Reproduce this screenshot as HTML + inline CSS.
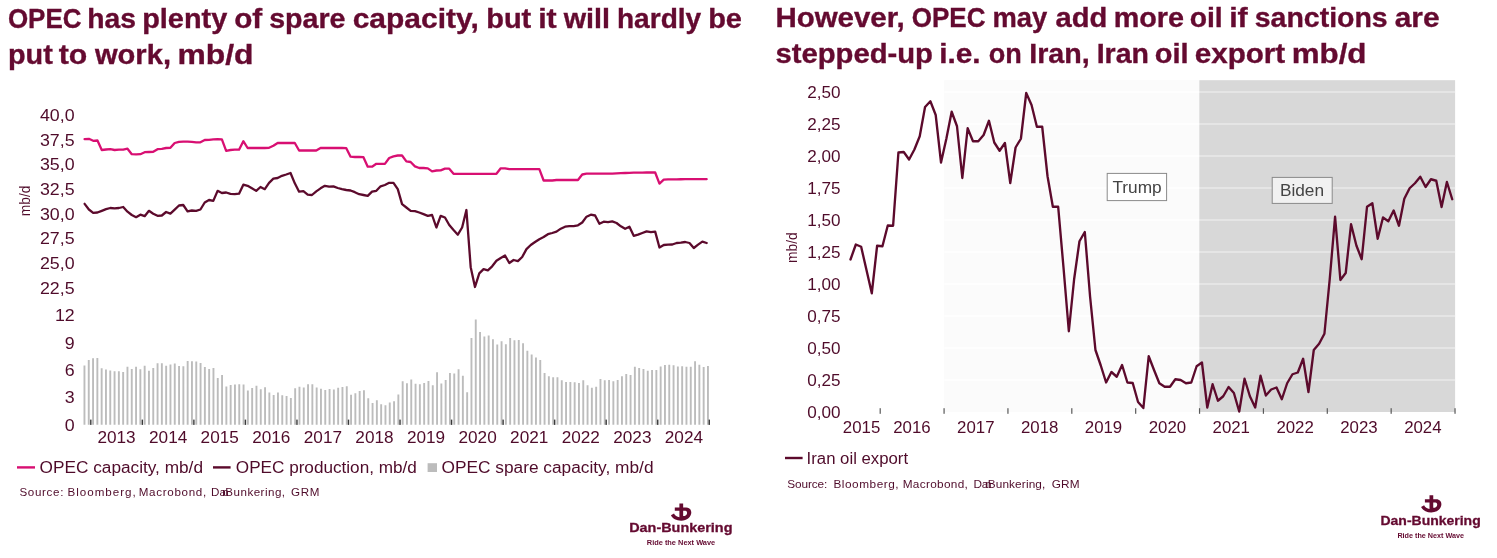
<!DOCTYPE html>
<html><head><meta charset="utf-8"><title>OPEC spare capacity / Iran oil export</title>
<style>
html,body{margin:0;padding:0;background:#ffffff;}
body{width:1497px;height:558px;overflow:hidden;}
svg{display:block;will-change:transform;}
svg text{font-family:"Liberation Sans",sans-serif;}
</style></head><body>
<svg width="1497" height="558" viewBox="0 0 1497 558">
<rect x="0" y="0" width="1497" height="558" fill="#ffffff"/>
<text x="7.95" y="27.60" font-size="27" fill="#640a30" font-weight="bold" textLength="73.55" lengthAdjust="spacingAndGlyphs" stroke="#640a30" stroke-width="0.35">OPEC</text>
<text x="87.20" y="27.60" font-size="27" fill="#640a30" font-weight="bold" textLength="48.80" lengthAdjust="spacingAndGlyphs" stroke="#640a30" stroke-width="0.35">has</text>
<text x="142.20" y="27.60" font-size="27" fill="#640a30" font-weight="bold" textLength="85.05" lengthAdjust="spacingAndGlyphs" stroke="#640a30" stroke-width="0.35">plenty</text>
<text x="234.20" y="27.60" font-size="27" fill="#640a30" font-weight="bold" textLength="28.05" lengthAdjust="spacingAndGlyphs" stroke="#640a30" stroke-width="0.35">of</text>
<text x="269.20" y="27.60" font-size="27" fill="#640a30" font-weight="bold" textLength="76.30" lengthAdjust="spacingAndGlyphs" stroke="#640a30" stroke-width="0.35">spare</text>
<text x="352.70" y="27.60" font-size="27" fill="#640a30" font-weight="bold" textLength="126.05" lengthAdjust="spacingAndGlyphs" stroke="#640a30" stroke-width="0.35">capacity,</text>
<text x="486.20" y="27.60" font-size="27" fill="#640a30" font-weight="bold" textLength="45.05" lengthAdjust="spacingAndGlyphs" stroke="#640a30" stroke-width="0.35">but</text>
<text x="538.20" y="27.60" font-size="27" fill="#640a30" font-weight="bold" textLength="18.55" lengthAdjust="spacingAndGlyphs" stroke="#640a30" stroke-width="0.35">it</text>
<text x="563.70" y="27.60" font-size="27" fill="#640a30" font-weight="bold" textLength="46.30" lengthAdjust="spacingAndGlyphs" stroke="#640a30" stroke-width="0.35">will</text>
<text x="616.95" y="27.60" font-size="27" fill="#640a30" font-weight="bold" textLength="84.30" lengthAdjust="spacingAndGlyphs" stroke="#640a30" stroke-width="0.35">hardly</text>
<text x="708.20" y="27.60" font-size="27" fill="#640a30" font-weight="bold" textLength="33.80" lengthAdjust="spacingAndGlyphs" stroke="#640a30" stroke-width="0.35">be</text>
<text x="7.95" y="64.00" font-size="27" fill="#640a30" font-weight="bold" textLength="44.80" lengthAdjust="spacingAndGlyphs" stroke="#640a30" stroke-width="0.35">put</text>
<text x="58.70" y="64.00" font-size="27" fill="#640a30" font-weight="bold" textLength="28.55" lengthAdjust="spacingAndGlyphs" stroke="#640a30" stroke-width="0.35">to</text>
<text x="94.95" y="64.00" font-size="27" fill="#640a30" font-weight="bold" textLength="76.05" lengthAdjust="spacingAndGlyphs" stroke="#640a30" stroke-width="0.35">work,</text>
<text x="177.45" y="64.00" font-size="27" fill="#640a30" font-weight="bold" textLength="76.05" lengthAdjust="spacingAndGlyphs" stroke="#640a30" stroke-width="0.35">mb/d</text>
<text x="775.45" y="27.20" font-size="27" fill="#640a30" font-weight="bold" textLength="129.30" lengthAdjust="spacingAndGlyphs" stroke="#640a30" stroke-width="0.35">However,</text>
<text x="911.70" y="27.20" font-size="27" fill="#640a30" font-weight="bold" textLength="73.80" lengthAdjust="spacingAndGlyphs" stroke="#640a30" stroke-width="0.35">OPEC</text>
<text x="992.45" y="27.20" font-size="27" fill="#640a30" font-weight="bold" textLength="54.80" lengthAdjust="spacingAndGlyphs" stroke="#640a30" stroke-width="0.35">may</text>
<text x="1055.45" y="27.20" font-size="27" fill="#640a30" font-weight="bold" textLength="51.80" lengthAdjust="spacingAndGlyphs" stroke="#640a30" stroke-width="0.35">add</text>
<text x="1113.70" y="27.20" font-size="27" fill="#640a30" font-weight="bold" textLength="70.30" lengthAdjust="spacingAndGlyphs" stroke="#640a30" stroke-width="0.35">more</text>
<text x="1189.70" y="27.20" font-size="27" fill="#640a30" font-weight="bold" textLength="33.05" lengthAdjust="spacingAndGlyphs" stroke="#640a30" stroke-width="0.35">oil</text>
<text x="1229.20" y="27.20" font-size="27" fill="#640a30" font-weight="bold" textLength="18.55" lengthAdjust="spacingAndGlyphs" stroke="#640a30" stroke-width="0.35">if</text>
<text x="1254.70" y="27.20" font-size="27" fill="#640a30" font-weight="bold" textLength="133.05" lengthAdjust="spacingAndGlyphs" stroke="#640a30" stroke-width="0.35">sanctions</text>
<text x="1394.70" y="27.20" font-size="27" fill="#640a30" font-weight="bold" textLength="44.80" lengthAdjust="spacingAndGlyphs" stroke="#640a30" stroke-width="0.35">are</text>
<text x="775.45" y="63.40" font-size="27" fill="#640a30" font-weight="bold" textLength="157.55" lengthAdjust="spacingAndGlyphs" stroke="#640a30" stroke-width="0.35">stepped-up</text>
<text x="939.20" y="63.40" font-size="27" fill="#640a30" font-weight="bold" textLength="41.30" lengthAdjust="spacingAndGlyphs" stroke="#640a30" stroke-width="0.35">i.e.</text>
<text x="988.70" y="63.40" font-size="27" fill="#640a30" font-weight="bold" textLength="33.05" lengthAdjust="spacingAndGlyphs" stroke="#640a30" stroke-width="0.35">on</text>
<text x="1029.20" y="63.40" font-size="27" fill="#640a30" font-weight="bold" textLength="60.55" lengthAdjust="spacingAndGlyphs" stroke="#640a30" stroke-width="0.35">Iran,</text>
<text x="1096.70" y="63.40" font-size="27" fill="#640a30" font-weight="bold" textLength="52.30" lengthAdjust="spacingAndGlyphs" stroke="#640a30" stroke-width="0.35">Iran</text>
<text x="1154.70" y="63.40" font-size="27" fill="#640a30" font-weight="bold" textLength="33.80" lengthAdjust="spacingAndGlyphs" stroke="#640a30" stroke-width="0.35">oil</text>
<text x="1194.70" y="63.40" font-size="27" fill="#640a30" font-weight="bold" textLength="90.55" lengthAdjust="spacingAndGlyphs" stroke="#640a30" stroke-width="0.35">export</text>
<text x="1291.70" y="63.40" font-size="27" fill="#640a30" font-weight="bold" textLength="74.80" lengthAdjust="spacingAndGlyphs" stroke="#640a30" stroke-width="0.35">mb/d</text>
<path d="M83.51 424.8V365.50h1.9V424.8zM87.81 424.8V360.00h1.9V424.8zM92.11 424.8V358.25h1.9V424.8zM96.41 424.8V358.00h1.9V424.8zM100.71 424.8V368.25h1.9V424.8zM105.01 424.8V369.50h1.9V424.8zM109.31 424.8V370.50h1.9V424.8zM113.61 424.8V371.25h1.9V424.8zM117.91 424.8V371.25h1.9V424.8zM122.21 424.8V372.00h1.9V424.8zM126.51 424.8V366.75h1.9V424.8zM130.81 424.8V369.00h1.9V424.8zM135.11 424.8V366.75h1.9V424.8zM139.41 424.8V369.25h1.9V424.8zM143.71 424.8V365.75h1.9V424.8zM148.01 424.8V370.75h1.9V424.8zM152.31 424.8V368.00h1.9V424.8zM156.61 424.8V363.25h1.9V424.8zM160.91 424.8V363.25h1.9V424.8zM165.21 424.8V365.75h1.9V424.8zM169.51 424.8V364.50h1.9V424.8zM173.81 424.8V363.50h1.9V424.8zM178.11 424.8V366.00h1.9V424.8zM182.41 424.8V366.25h1.9V424.8zM186.71 424.8V361.00h1.9V424.8zM191.01 424.8V361.25h1.9V424.8zM195.31 424.8V361.50h1.9V424.8zM199.61 424.8V363.00h1.9V424.8zM203.91 424.8V367.00h1.9V424.8zM208.21 424.8V369.00h1.9V424.8zM212.51 424.8V368.00h1.9V424.8zM216.81 424.8V378.00h1.9V424.8zM221.11 424.8V375.00h1.9V424.8zM225.41 424.8V386.50h1.9V424.8zM229.71 424.8V385.00h1.9V424.8zM234.01 424.8V384.50h1.9V424.8zM238.31 424.8V384.25h1.9V424.8zM242.61 424.8V384.50h1.9V424.8zM246.91 424.8V390.50h1.9V424.8zM251.21 424.8V388.00h1.9V424.8zM255.51 424.8V385.75h1.9V424.8zM259.81 424.8V389.25h1.9V424.8zM264.11 424.8V387.25h1.9V424.8zM268.41 424.8V392.50h1.9V424.8zM272.71 424.8V395.00h1.9V424.8zM277.01 424.8V392.50h1.9V424.8zM281.31 424.8V395.25h1.9V424.8zM285.61 424.8V396.00h1.9V424.8zM289.91 424.8V398.00h1.9V424.8zM294.21 424.8V388.25h1.9V424.8zM298.51 424.8V386.75h1.9V424.8zM302.81 424.8V387.50h1.9V424.8zM307.11 424.8V384.25h1.9V424.8zM311.41 424.8V384.25h1.9V424.8zM315.71 424.8V387.50h1.9V424.8zM320.01 424.8V388.75h1.9V424.8zM324.31 424.8V390.00h1.9V424.8zM328.61 424.8V389.00h1.9V424.8zM332.91 424.8V389.50h1.9V424.8zM337.21 424.8V387.75h1.9V424.8zM341.51 424.8V387.00h1.9V424.8zM345.81 424.8V386.25h1.9V424.8zM350.11 424.8V394.75h1.9V424.8zM354.41 424.8V393.25h1.9V424.8zM358.71 424.8V391.00h1.9V424.8zM363.01 424.8V390.25h1.9V424.8zM367.31 424.8V398.25h1.9V424.8zM371.61 424.8V403.00h1.9V424.8zM375.91 424.8V400.25h1.9V424.8zM380.21 424.8V404.25h1.9V424.8zM384.51 424.8V405.25h1.9V424.8zM388.81 424.8V402.50h1.9V424.8zM393.11 424.8V401.25h1.9V424.8zM397.41 424.8V394.50h1.9V424.8zM401.71 424.8V381.25h1.9V424.8zM406.01 424.8V383.25h1.9V424.8zM410.31 424.8V379.50h1.9V424.8zM414.61 424.8V383.75h1.9V424.8zM418.91 424.8V384.25h1.9V424.8zM423.21 424.8V383.00h1.9V424.8zM427.51 424.8V381.00h1.9V424.8zM431.81 424.8V385.25h1.9V424.8zM436.11 424.8V372.25h1.9V424.8zM440.41 424.8V383.50h1.9V424.8zM444.71 424.8V380.00h1.9V424.8zM449.01 424.8V373.00h1.9V424.8zM453.31 424.8V373.50h1.9V424.8zM457.61 424.8V369.25h1.9V424.8zM461.91 424.8V375.75h1.9V424.8zM466.21 424.8V392.25h1.9V424.8zM470.51 424.8V338.00h1.9V424.8zM474.81 424.8V319.50h1.9V424.8zM479.11 424.8V332.00h1.9V424.8zM483.41 424.8V336.50h1.9V424.8zM487.71 424.8V335.50h1.9V424.8zM492.01 424.8V339.25h1.9V424.8zM496.31 424.8V344.50h1.9V424.8zM500.61 424.8V341.25h1.9V424.8zM504.91 424.8V344.25h1.9V424.8zM509.21 424.8V338.00h1.9V424.8zM513.51 424.8V340.25h1.9V424.8zM517.81 424.8V340.00h1.9V424.8zM522.11 424.8V343.25h1.9V424.8zM526.41 424.8V350.75h1.9V424.8zM530.71 424.8V354.50h1.9V424.8zM535.01 424.8V357.50h1.9V424.8zM539.31 424.8V360.00h1.9V424.8zM543.61 424.8V373.00h1.9V424.8zM547.91 424.8V376.25h1.9V424.8zM552.21 424.8V377.25h1.9V424.8zM556.51 424.8V377.25h1.9V424.8zM560.81 424.8V380.25h1.9V424.8zM565.11 424.8V382.00h1.9V424.8zM569.41 424.8V382.00h1.9V424.8zM573.71 424.8V382.25h1.9V424.8zM578.01 424.8V383.00h1.9V424.8zM582.31 424.8V380.25h1.9V424.8zM586.61 424.8V385.25h1.9V424.8zM590.91 424.8V387.75h1.9V424.8zM595.21 424.8V386.75h1.9V424.8zM599.51 424.8V379.00h1.9V424.8zM603.81 424.8V380.25h1.9V424.8zM608.11 424.8V380.00h1.9V424.8zM612.41 424.8V381.25h1.9V424.8zM616.71 424.8V380.00h1.9V424.8zM621.01 424.8V376.25h1.9V424.8zM625.31 424.8V374.00h1.9V424.8zM629.61 424.8V375.00h1.9V424.8zM633.91 424.8V366.75h1.9V424.8zM638.21 424.8V368.00h1.9V424.8zM642.51 424.8V369.00h1.9V424.8zM646.81 424.8V370.75h1.9V424.8zM651.11 424.8V370.00h1.9V424.8zM655.41 424.8V370.00h1.9V424.8zM659.71 424.8V366.50h1.9V424.8zM664.01 424.8V365.00h1.9V424.8zM668.31 424.8V364.75h1.9V424.8zM672.61 424.8V365.25h1.9V424.8zM676.91 424.8V366.50h1.9V424.8zM681.21 424.8V366.25h1.9V424.8zM685.51 424.8V366.75h1.9V424.8zM689.81 424.8V366.75h1.9V424.8zM694.11 424.8V361.25h1.9V424.8zM698.41 424.8V364.75h1.9V424.8zM702.71 424.8V367.00h1.9V424.8zM707.01 424.8V366.00h1.9V424.8z" fill="#bcbcbc"/>
<rect x="90.10" y="419.6" width="1.4" height="5.3" fill="#3a3a3a"/>
<rect x="141.64" y="419.6" width="1.4" height="5.3" fill="#3a3a3a"/>
<rect x="193.18" y="419.6" width="1.4" height="5.3" fill="#3a3a3a"/>
<rect x="244.72" y="419.6" width="1.4" height="5.3" fill="#3a3a3a"/>
<rect x="296.26" y="419.6" width="1.4" height="5.3" fill="#3a3a3a"/>
<rect x="347.80" y="419.6" width="1.4" height="5.3" fill="#3a3a3a"/>
<rect x="399.34" y="419.6" width="1.4" height="5.3" fill="#3a3a3a"/>
<rect x="450.88" y="419.6" width="1.4" height="5.3" fill="#3a3a3a"/>
<rect x="502.42" y="419.6" width="1.4" height="5.3" fill="#3a3a3a"/>
<rect x="553.96" y="419.6" width="1.4" height="5.3" fill="#3a3a3a"/>
<rect x="605.50" y="419.6" width="1.4" height="5.3" fill="#3a3a3a"/>
<rect x="657.04" y="419.6" width="1.4" height="5.3" fill="#3a3a3a"/>
<rect x="708.58" y="419.6" width="1.4" height="5.3" fill="#3a3a3a"/>
<polyline points="84.60,139.17 88.89,138.83 93.18,140.83 97.47,140.50 101.76,150.00 106.05,149.50 110.34,149.17 114.63,150.00 118.92,149.67 123.21,149.67 127.50,148.67 131.79,154.17 136.08,154.33 140.37,154.17 144.66,152.17 148.95,152.00 153.24,151.83 157.53,149.17 161.82,148.83 166.11,148.00 170.40,147.83 174.69,143.00 178.98,141.83 183.27,141.67 187.56,141.67 191.85,141.83 196.14,142.33 200.43,142.33 204.72,140.00 209.01,139.83 213.30,139.33 217.59,139.17 221.88,139.33 226.17,150.83 230.46,150.00 234.75,149.67 239.04,149.67 243.33,141.17 247.62,148.00 251.91,148.00 256.20,148.00 260.49,148.00 264.78,148.00 269.07,147.83 273.36,145.83 277.65,143.00 281.94,142.83 286.23,143.00 290.52,143.00 294.81,143.00 299.10,150.50 303.39,150.50 307.68,150.50 311.97,150.50 316.26,150.50 320.55,148.00 324.84,148.00 329.13,148.00 333.42,148.00 337.71,148.00 342.00,148.00 346.29,148.17 350.58,156.67 354.87,157.00 359.16,157.00 363.45,157.17 367.74,166.67 372.03,166.67 376.32,163.83 380.61,163.83 384.90,163.83 389.19,158.00 393.48,156.33 397.77,155.50 402.06,155.50 406.35,161.33 410.64,162.00 414.93,166.33 419.22,168.00 423.51,168.00 427.80,168.33 432.09,171.33 436.38,170.50 440.67,170.33 444.96,168.67 449.25,168.67 453.54,173.83 457.83,173.83 462.12,173.83 466.41,173.83 470.70,173.83 474.99,173.83 479.28,173.83 483.57,173.83 487.86,173.83 492.15,173.83 496.44,173.83 500.73,168.33 505.02,168.33 509.31,169.17 513.60,169.17 517.89,169.17 522.18,169.17 526.47,169.17 530.76,169.17 535.05,169.17 539.34,169.17 543.63,180.50 547.92,180.50 552.21,180.50 556.50,180.00 560.79,180.00 565.08,180.00 569.37,180.00 573.66,180.00 577.95,180.00 582.24,174.50 586.53,173.67 590.82,173.67 595.11,173.67 599.40,173.67 603.69,173.67 607.98,173.67 612.27,173.67 616.56,173.42 620.85,173.17 625.14,173.00 629.43,172.83 633.72,172.67 638.01,172.67 642.30,172.58 646.59,172.50 650.88,172.50 655.17,172.50 659.46,183.67 663.75,179.67 668.04,179.33 672.33,179.33 676.62,179.33 680.91,179.25 685.20,179.17 689.49,179.17 693.78,179.17 698.07,179.17 702.36,179.17 706.65,179.17" fill="none" stroke="#d80f72" stroke-width="2.3" stroke-linejoin="round" stroke-linecap="round"/>
<polyline points="84.60,203.83 88.89,209.50 93.18,212.83 97.47,212.50 101.76,210.83 106.05,209.17 110.34,208.00 114.63,208.33 118.92,208.00 123.21,207.00 127.50,211.67 131.79,215.00 136.08,217.17 140.37,214.67 144.66,216.17 148.95,210.83 153.24,213.67 157.53,215.83 161.82,215.50 166.11,212.00 170.40,213.67 174.69,209.67 178.98,205.50 183.27,205.00 187.56,211.33 191.85,210.50 196.14,210.83 200.43,209.50 204.72,202.50 209.01,200.00 213.30,200.83 217.59,190.83 221.88,193.00 226.17,192.50 230.46,193.83 234.75,194.17 239.04,193.67 243.33,184.67 247.62,185.83 251.91,188.33 256.20,190.83 260.49,187.00 264.78,189.17 269.07,182.83 273.36,178.67 277.65,178.00 281.94,175.83 286.23,174.50 290.52,173.00 294.81,183.33 299.10,191.67 303.39,191.17 307.68,194.67 311.97,195.00 316.26,191.33 320.55,188.33 324.84,185.83 329.13,186.67 333.42,186.33 337.71,188.00 342.00,189.17 346.29,190.00 350.58,190.50 354.87,192.17 359.16,194.17 363.45,195.00 367.74,195.83 372.03,191.67 376.32,190.83 380.61,186.33 384.90,185.00 389.19,182.83 393.48,182.83 397.77,189.17 402.06,204.17 406.35,207.50 410.64,210.83 414.93,211.17 419.22,212.50 423.51,214.17 427.80,215.83 432.09,215.00 436.38,227.50 440.67,215.83 444.96,217.50 449.25,225.00 453.54,230.00 457.83,234.67 462.12,227.50 466.41,210.00 470.70,267.17 474.99,287.00 479.28,273.33 483.57,269.17 487.86,270.33 492.15,266.33 496.44,260.83 500.73,258.00 505.02,255.50 509.31,263.00 513.60,260.00 517.89,261.17 522.18,257.00 526.47,249.17 530.76,245.00 535.05,242.00 539.34,239.17 543.63,237.00 547.92,234.17 552.21,233.00 556.50,231.67 560.79,228.67 565.08,226.67 569.37,226.17 573.66,226.17 577.95,225.33 582.24,222.50 586.53,216.67 590.82,214.67 595.11,215.50 599.40,223.83 603.69,221.67 607.98,222.17 612.27,221.33 616.56,223.00 620.85,226.33 625.14,228.83 629.43,226.67 633.72,235.83 638.01,234.67 642.30,233.00 646.59,231.33 650.88,232.17 655.17,231.67 659.46,247.50 663.75,245.00 668.04,244.67 672.33,244.50 676.62,243.00 680.91,242.67 685.20,242.00 689.49,243.00 693.78,248.00 698.07,244.67 702.36,241.67 706.65,243.00" fill="none" stroke="#5c0a2c" stroke-width="2.3" stroke-linejoin="round" stroke-linecap="round"/>
<text transform="translate(74.60,120.95) scale(1.06,1)" font-size="16.8" fill="#4f0b2a" text-anchor="end">40,0</text>
<text transform="translate(74.60,145.65) scale(1.06,1)" font-size="16.8" fill="#4f0b2a" text-anchor="end">37,5</text>
<text transform="translate(74.60,170.35) scale(1.06,1)" font-size="16.8" fill="#4f0b2a" text-anchor="end">35,0</text>
<text transform="translate(74.60,195.05) scale(1.06,1)" font-size="16.8" fill="#4f0b2a" text-anchor="end">32,5</text>
<text transform="translate(74.60,219.75) scale(1.06,1)" font-size="16.8" fill="#4f0b2a" text-anchor="end">30,0</text>
<text transform="translate(74.60,244.45) scale(1.06,1)" font-size="16.8" fill="#4f0b2a" text-anchor="end">27,5</text>
<text transform="translate(74.60,269.15) scale(1.06,1)" font-size="16.8" fill="#4f0b2a" text-anchor="end">25,0</text>
<text transform="translate(74.60,293.85) scale(1.06,1)" font-size="16.8" fill="#4f0b2a" text-anchor="end">22,5</text>
<text transform="translate(74.70,430.95) scale(1.06,1)" font-size="16.8" fill="#4f0b2a" text-anchor="end">0</text>
<text transform="translate(74.70,403.47) scale(1.06,1)" font-size="16.8" fill="#4f0b2a" text-anchor="end">3</text>
<text transform="translate(74.70,375.99) scale(1.06,1)" font-size="16.8" fill="#4f0b2a" text-anchor="end">6</text>
<text transform="translate(74.70,348.51) scale(1.06,1)" font-size="16.8" fill="#4f0b2a" text-anchor="end">9</text>
<text transform="translate(74.70,321.03) scale(1.06,1)" font-size="16.8" fill="#4f0b2a" text-anchor="end">12</text>
<text transform="translate(116.55,443.00) scale(1.055,1)" font-size="16.3" fill="#4f0b2a" text-anchor="middle">2013</text>
<text transform="translate(168.13,443.00) scale(1.055,1)" font-size="16.3" fill="#4f0b2a" text-anchor="middle">2014</text>
<text transform="translate(219.71,443.00) scale(1.055,1)" font-size="16.3" fill="#4f0b2a" text-anchor="middle">2015</text>
<text transform="translate(271.29,443.00) scale(1.055,1)" font-size="16.3" fill="#4f0b2a" text-anchor="middle">2016</text>
<text transform="translate(322.87,443.00) scale(1.055,1)" font-size="16.3" fill="#4f0b2a" text-anchor="middle">2017</text>
<text transform="translate(374.45,443.00) scale(1.055,1)" font-size="16.3" fill="#4f0b2a" text-anchor="middle">2018</text>
<text transform="translate(426.03,443.00) scale(1.055,1)" font-size="16.3" fill="#4f0b2a" text-anchor="middle">2019</text>
<text transform="translate(477.61,443.00) scale(1.055,1)" font-size="16.3" fill="#4f0b2a" text-anchor="middle">2020</text>
<text transform="translate(529.19,443.00) scale(1.055,1)" font-size="16.3" fill="#4f0b2a" text-anchor="middle">2021</text>
<text transform="translate(580.77,443.00) scale(1.055,1)" font-size="16.3" fill="#4f0b2a" text-anchor="middle">2022</text>
<text transform="translate(632.35,443.00) scale(1.055,1)" font-size="16.3" fill="#4f0b2a" text-anchor="middle">2023</text>
<text transform="translate(683.93,443.00) scale(1.055,1)" font-size="16.3" fill="#4f0b2a" text-anchor="middle">2024</text>
<text transform="translate(30.1,200.9) rotate(-90)" font-size="13.8" fill="#4f0b2a" text-anchor="middle">mb/d</text>
<line x1="17" y1="467.4" x2="35" y2="467.4" stroke="#d80f72" stroke-width="2.4"/>
<text x="39.60" y="473.00" font-size="16" fill="#4f0b2a" textLength="163.40" lengthAdjust="spacingAndGlyphs">OPEC capacity, mb/d</text>
<line x1="213" y1="467.4" x2="230.6" y2="467.4" stroke="#5c0a2c" stroke-width="2.4"/>
<text x="235.80" y="473.00" font-size="16" fill="#4f0b2a" textLength="181.00" lengthAdjust="spacingAndGlyphs">OPEC production, mb/d</text>
<rect x="427.6" y="463.2" width="9.4" height="8.8" fill="#bcbcbc"/>
<text x="441.50" y="473.00" font-size="16" fill="#4f0b2a" textLength="212.00" lengthAdjust="spacingAndGlyphs">OPEC spare capacity, mb/d</text>
<text x="19.40" y="496.10" font-size="11.6" fill="#4f0b2a" textLength="44.00" lengthAdjust="spacing">Source:</text>
<text x="67.50" y="496.10" font-size="11.6" fill="#4f0b2a" textLength="68.20" lengthAdjust="spacing">Bloomberg,</text>
<text x="138.70" y="496.10" font-size="11.6" fill="#4f0b2a" textLength="67.50" lengthAdjust="spacing">Macrobond,</text>
<text x="210.90" y="496.10" font-size="11.6" fill="#4f0b2a" textLength="15.00" lengthAdjust="spacing">Da</text>
<text x="222.30" y="496.10" font-size="11.6" fill="#4f0b2a" textLength="7.50" lengthAdjust="spacing">n</text>
<text x="225.30" y="496.10" font-size="11.6" fill="#4f0b2a" textLength="59.80" lengthAdjust="spacing">Bunkering,</text>
<text x="291.10" y="496.10" font-size="11.6" fill="#4f0b2a" textLength="28.20" lengthAdjust="spacing">GRM</text>
<rect x="944.2" y="80.2" width="255.1" height="331.8" fill="#fbfbfb"/>
<rect x="1199.3" y="80.2" width="255.8" height="331.8" fill="#d8d8d8"/>
<rect x="1199.3" y="379.30" width="255.8" height="1.4" fill="#ececec"/>
<rect x="944.2" y="379.40" width="255.1" height="1.2" fill="#ffffff"/>
<rect x="1199.3" y="347.30" width="255.8" height="1.4" fill="#ececec"/>
<rect x="944.2" y="347.40" width="255.1" height="1.2" fill="#ffffff"/>
<rect x="1199.3" y="315.30" width="255.8" height="1.4" fill="#ececec"/>
<rect x="944.2" y="315.40" width="255.1" height="1.2" fill="#ffffff"/>
<rect x="1199.3" y="283.30" width="255.8" height="1.4" fill="#ececec"/>
<rect x="944.2" y="283.40" width="255.1" height="1.2" fill="#ffffff"/>
<rect x="1199.3" y="251.30" width="255.8" height="1.4" fill="#ececec"/>
<rect x="944.2" y="251.40" width="255.1" height="1.2" fill="#ffffff"/>
<rect x="1199.3" y="219.30" width="255.8" height="1.4" fill="#ececec"/>
<rect x="944.2" y="219.40" width="255.1" height="1.2" fill="#ffffff"/>
<rect x="1199.3" y="187.30" width="255.8" height="1.4" fill="#ececec"/>
<rect x="944.2" y="187.40" width="255.1" height="1.2" fill="#ffffff"/>
<rect x="1199.3" y="155.30" width="255.8" height="1.4" fill="#ececec"/>
<rect x="944.2" y="155.40" width="255.1" height="1.2" fill="#ffffff"/>
<rect x="1199.3" y="123.30" width="255.8" height="1.4" fill="#ececec"/>
<rect x="944.2" y="123.40" width="255.1" height="1.2" fill="#ffffff"/>
<rect x="1199.3" y="91.30" width="255.8" height="1.4" fill="#ececec"/>
<rect x="944.2" y="91.40" width="255.1" height="1.2" fill="#ffffff"/>
<rect x="879.60" y="408.2" width="1.2" height="5.6" fill="#5a5a5a"/>
<rect x="943.47" y="408.2" width="1.2" height="5.6" fill="#5a5a5a"/>
<rect x="1007.34" y="408.2" width="1.2" height="5.6" fill="#5a5a5a"/>
<rect x="1071.21" y="408.2" width="1.2" height="5.6" fill="#5a5a5a"/>
<rect x="1135.08" y="408.2" width="1.2" height="5.6" fill="#5a5a5a"/>
<rect x="1198.95" y="408.2" width="1.2" height="5.6" fill="#5a5a5a"/>
<rect x="1262.82" y="408.2" width="1.2" height="5.6" fill="#5a5a5a"/>
<rect x="1326.69" y="408.2" width="1.2" height="5.6" fill="#5a5a5a"/>
<rect x="1390.56" y="408.2" width="1.2" height="5.6" fill="#5a5a5a"/>
<rect x="1454.43" y="408.2" width="1.2" height="5.6" fill="#5a5a5a"/>
<polyline points="850.50,259.50 855.83,244.50 861.15,246.75 866.48,270.00 871.80,293.25 877.12,245.75 882.45,246.25 887.77,225.50 893.10,225.75 898.42,152.50 903.75,152.00 909.08,159.50 914.40,149.50 919.73,136.25 925.05,107.00 930.38,101.25 935.70,115.00 941.02,162.50 946.35,138.75 951.67,111.75 957.00,126.25 962.33,178.00 967.65,128.25 972.98,141.25 978.30,141.25 983.62,135.00 988.95,120.75 994.27,142.50 999.60,150.75 1004.92,143.00 1010.25,183.00 1015.58,147.50 1020.90,138.75 1026.22,93.00 1031.55,105.00 1036.88,126.75 1042.20,126.75 1047.53,176.25 1052.85,206.75 1058.17,206.75 1063.50,267.50 1068.83,331.25 1074.15,279.00 1079.47,241.25 1084.80,232.00 1090.12,297.00 1095.45,350.00 1100.78,365.50 1106.10,382.50 1111.42,372.00 1116.75,376.75 1122.08,365.00 1127.40,382.50 1132.72,383.00 1138.05,402.00 1143.38,408.00 1148.70,356.25 1154.03,370.00 1159.35,383.25 1164.67,386.75 1170.00,386.75 1175.33,379.25 1180.65,380.00 1185.97,383.25 1191.30,382.50 1196.62,366.25 1201.95,362.50 1207.28,407.50 1212.60,384.25 1217.92,400.75 1223.25,396.25 1228.58,387.00 1233.90,393.00 1239.22,411.50 1244.55,378.75 1249.88,396.25 1255.20,407.50 1260.53,375.75 1265.85,395.50 1271.17,389.50 1276.50,387.50 1281.83,399.25 1287.15,383.25 1292.47,374.25 1297.80,372.50 1303.12,358.75 1308.45,392.00 1313.78,350.00 1319.10,343.75 1324.42,333.75 1329.75,279.00 1335.08,216.75 1340.40,280.00 1345.72,273.00 1351.05,224.25 1356.38,245.50 1361.70,259.25 1367.03,206.75 1372.35,203.25 1377.68,238.75 1383.00,217.50 1388.33,221.25 1393.65,210.50 1398.97,225.75 1404.30,198.75 1409.62,188.25 1414.95,183.25 1420.28,176.75 1425.60,187.00 1430.93,179.25 1436.25,180.75 1441.58,207.00 1446.90,182.00 1452.22,199.25" fill="none" stroke="#5c0a2c" stroke-width="2.35" stroke-linejoin="round" stroke-linecap="round"/>
<text transform="translate(840.60,417.80) scale(1.045,1)" font-size="16.4" fill="#4f0b2a" text-anchor="end">0,00</text>
<text transform="translate(840.60,385.80) scale(1.045,1)" font-size="16.4" fill="#4f0b2a" text-anchor="end">0,25</text>
<text transform="translate(840.60,353.80) scale(1.045,1)" font-size="16.4" fill="#4f0b2a" text-anchor="end">0,50</text>
<text transform="translate(840.60,321.80) scale(1.045,1)" font-size="16.4" fill="#4f0b2a" text-anchor="end">0,75</text>
<text transform="translate(840.60,289.80) scale(1.045,1)" font-size="16.4" fill="#4f0b2a" text-anchor="end">1,00</text>
<text transform="translate(840.60,257.80) scale(1.045,1)" font-size="16.4" fill="#4f0b2a" text-anchor="end">1,25</text>
<text transform="translate(840.60,225.80) scale(1.045,1)" font-size="16.4" fill="#4f0b2a" text-anchor="end">1,50</text>
<text transform="translate(840.60,193.80) scale(1.045,1)" font-size="16.4" fill="#4f0b2a" text-anchor="end">1,75</text>
<text transform="translate(840.60,161.80) scale(1.045,1)" font-size="16.4" fill="#4f0b2a" text-anchor="end">2,00</text>
<text transform="translate(840.60,129.80) scale(1.045,1)" font-size="16.4" fill="#4f0b2a" text-anchor="end">2,25</text>
<text transform="translate(840.60,97.80) scale(1.045,1)" font-size="16.4" fill="#4f0b2a" text-anchor="end">2,50</text>
<text transform="translate(880.30,432.50) scale(1.04,1)" font-size="16.2" fill="#4f0b2a" text-anchor="end">2015</text>
<text transform="translate(911.90,432.50) scale(1.04,1)" font-size="16.2" fill="#4f0b2a" text-anchor="middle">2016</text>
<text transform="translate(975.77,432.50) scale(1.04,1)" font-size="16.2" fill="#4f0b2a" text-anchor="middle">2017</text>
<text transform="translate(1039.64,432.50) scale(1.04,1)" font-size="16.2" fill="#4f0b2a" text-anchor="middle">2018</text>
<text transform="translate(1103.51,432.50) scale(1.04,1)" font-size="16.2" fill="#4f0b2a" text-anchor="middle">2019</text>
<text transform="translate(1167.38,432.50) scale(1.04,1)" font-size="16.2" fill="#4f0b2a" text-anchor="middle">2020</text>
<text transform="translate(1231.25,432.50) scale(1.04,1)" font-size="16.2" fill="#4f0b2a" text-anchor="middle">2021</text>
<text transform="translate(1295.12,432.50) scale(1.04,1)" font-size="16.2" fill="#4f0b2a" text-anchor="middle">2022</text>
<text transform="translate(1358.99,432.50) scale(1.04,1)" font-size="16.2" fill="#4f0b2a" text-anchor="middle">2023</text>
<text transform="translate(1422.86,432.50) scale(1.04,1)" font-size="16.2" fill="#4f0b2a" text-anchor="middle">2024</text>
<text transform="translate(797.4,247.6) rotate(-90)" font-size="13.8" fill="#4f0b2a" text-anchor="middle">mb/d</text>
<rect x="1107.2" y="173.4" width="59.4" height="27.2" fill="#ffffff" stroke="#8a8a8a" stroke-width="1"/>
<text transform="translate(1137.00,193.00) scale(1.04,1)" font-size="16.6" fill="#444444" text-anchor="middle">Trump</text>
<rect x="1272.2" y="177.4" width="60" height="26" fill="#f1f1f1" stroke="#8a8a8a" stroke-width="1"/>
<text transform="translate(1302.00,196.20) scale(1.04,1)" font-size="16.6" fill="#444444" text-anchor="middle">Biden</text>
<line x1="785" y1="458" x2="802.6" y2="458" stroke="#5c0a2c" stroke-width="2.4"/>
<text x="806.60" y="463.70" font-size="16" fill="#4f0b2a" textLength="101.50" lengthAdjust="spacingAndGlyphs">Iran oil export</text>
<text x="787.20" y="488.10" font-size="11.8" fill="#4f0b2a" textLength="40.10" lengthAdjust="spacing">Source:</text>
<text x="833.45" y="488.10" font-size="11.8" fill="#4f0b2a" textLength="65.10" lengthAdjust="spacing">Bloomberg,</text>
<text x="902.70" y="488.10" font-size="11.8" fill="#4f0b2a" textLength="65.10" lengthAdjust="spacing">Macrobond,</text>
<text x="973.45" y="488.10" font-size="11.8" fill="#4f0b2a" textLength="14.85" lengthAdjust="spacing">Da</text>
<text x="984.90" y="488.10" font-size="11.8" fill="#4f0b2a" textLength="7.40" lengthAdjust="spacing">n</text>
<text x="987.70" y="488.10" font-size="11.8" fill="#4f0b2a" textLength="57.60" lengthAdjust="spacing">Bunkering,</text>
<text x="1051.70" y="488.10" font-size="11.8" fill="#4f0b2a" textLength="27.85" lengthAdjust="spacing">GRM</text>
<g transform="translate(664.00,499.00)"><path fill-rule="evenodd" fill="#640a30" d="M6.95 16.3 L10 14.6 C11 16.6 13 18 15.4 18.35 L15.4 11.65 L10.8 11.65 L10.8 8.5 L15.4 8.5 L15.4 4.6 L19.15 4.6 L19.15 8.5 L22.2 8.5 C25.5 8.5 27.3 10.8 27.3 13.6 C27.3 18 23 21.7 17.2 21.7 C12.3 21.7 8.5 19.6 6.95 16.3 Z M19.15 11.65 L21.3 11.65 C22.6 11.65 23.1 12.8 23.1 13.9 C23.1 15.8 21.5 17 19.15 17.1 Z"/></g>
<text x="629.20" y="532.20" font-size="13.3" fill="#640a30" font-weight="bold" textLength="103.30" lengthAdjust="spacingAndGlyphs" stroke="#640a30" stroke-width="0.3">Dan-Bunkering</text>
<text x="646.80" y="544.60" font-size="7.6" fill="#640a30" font-weight="bold" textLength="68.40" lengthAdjust="spacingAndGlyphs">Ride the Next Wave</text>
<g transform="translate(1414.10,490.74)"><path fill-rule="evenodd" fill="#640a30" d="M6.95 16.3 L10 14.6 C11 16.6 13 18 15.4 18.35 L15.4 11.65 L10.8 11.65 L10.8 8.5 L15.4 8.5 L15.4 4.6 L19.15 4.6 L19.15 8.5 L22.2 8.5 C25.5 8.5 27.3 10.8 27.3 13.6 C27.3 18 23 21.7 17.2 21.7 C12.3 21.7 8.5 19.6 6.95 16.3 Z M19.15 11.65 L21.3 11.65 C22.6 11.65 23.1 12.8 23.1 13.9 C23.1 15.8 21.5 17 19.15 17.1 Z"/></g>
<text x="1380.50" y="525.00" font-size="13.3" fill="#640a30" font-weight="bold" textLength="100.20" lengthAdjust="spacingAndGlyphs" stroke="#640a30" stroke-width="0.3">Dan-Bunkering</text>
<text x="1397.40" y="538.10" font-size="7.6" fill="#640a30" font-weight="bold" textLength="66.60" lengthAdjust="spacingAndGlyphs">Ride the Next Wave</text>
</svg>
</body></html>
